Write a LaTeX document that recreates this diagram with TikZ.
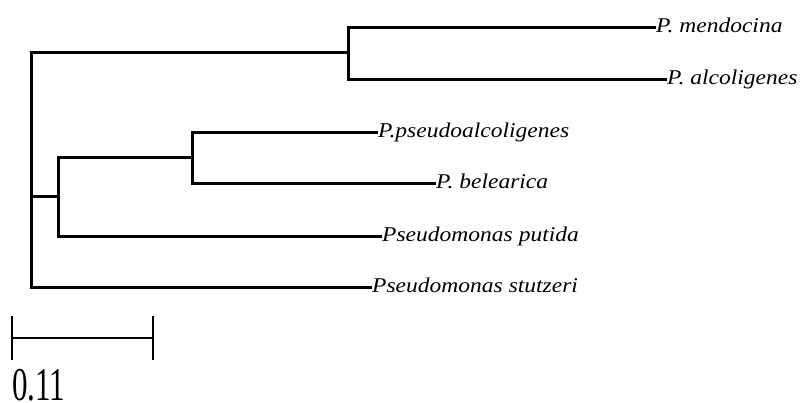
\documentclass[tikz,border=0pt]{standalone}
\usepackage{fontspec}
\setmainfont{Liberation Serif}
\begin{document}
\begin{tikzpicture}[x=1pt,y=-1pt,
  branch/.style={line width=3pt, line join=miter},
  taxon/.style={font=\fontsize{21}{25}\selectfont\itshape, anchor=west, inner sep=0pt,
    text height=14pt, text depth=4pt, xscale=1.12},
  scalebar/.style={line width=2.2pt}]
\useasboundingbox (0,0) rectangle (808,402);
% internal nodes of the tree
\coordinate (R) at (31,196);
\coordinate (A) at (348,52);
\coordinate (B) at (58,196);
\coordinate (C) at (192,157);
% leaves
\node[taxon] (mend) at (656,27) {P. mendocina};
\node[taxon] (alco) at (667,79) {P. alcoligenes};
\node[taxon] (pseu) at (378,132) {P.pseudoalcoligenes};
\node[taxon] (bele) at (436,183) {P. belearica};
\node[taxon] (puti) at (382,236) {Pseudomonas putida};
\node[taxon] (stut) at (372,287) {Pseudomonas stutzeri};
% branches
\draw[branch] (A) -| (R);
\draw[branch] (R) -- (B);
\draw[branch] (R) |- (stut.west);
\draw[branch] (A) |- (mend.west);
\draw[branch] (A) |- (alco.west);
\draw[branch] (B) |- (C);
\draw[branch] (B) |- (puti.west);
\draw[branch] (C) |- (pseu.west);
\draw[branch] (C) |- (bele.west);
% scale bar
\coordinate (s1) at (12,338);
\coordinate (s2) at (153,338);
\draw[scalebar] (s1) -- (s2);
\draw[scalebar] ([yshift=-22pt]s1) -- ([yshift=22pt]s1);
\draw[scalebar] ([yshift=-22pt]s2) -- ([yshift=22pt]s2);
\node[anchor=base west, inner sep=0pt, font=\fontsize{47}{50}\selectfont, xscale=0.66] (sl) at (12,400) {0.11};
\end{tikzpicture}
\end{document}
